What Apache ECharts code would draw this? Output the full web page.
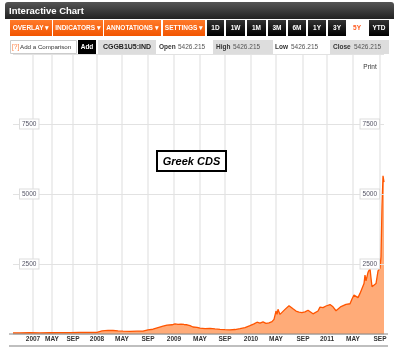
<!DOCTYPE html>
<html>
<head>
<meta charset="utf-8">
<script src="https://cdn.jsdelivr.net/npm/echarts@6/dist/echarts.min.js"></script>
<style>
  html, body { margin: 0; padding: 0; background: #fff; }
  #chart { width: 400px; height: 353px; }
</style>
</head>
<body>
<div id="chart"></div>
<script>
// trading-day slots along the x axis (one slot per pixel column of the plot)
const slotCount = 372;
const tickLabels = ["2007", "MAY", "SEP", "2008", "MAY", "SEP", "2009", "MAY", "SEP", "2010", "MAY", "SEP", "2011", "MAY", "SEP"];
const tickSlots = [20, 39, 60, 84, 109, 135, 161, 187, 212, 238, 263, 290, 314, 340, 367];

// Greek 5Y CDS
const cdsSlots = [0, 7, 17, 27, 37, 47, 57, 67, 77, 84, 89, 95, 100, 105, 110, 117, 124, 130, 135, 140, 145, 150, 154, 159, 162, 165, 168, 171, 174, 177, 180, 184, 187, 192, 197, 202, 207, 212, 217, 222, 227, 232, 237, 241, 244, 247, 250, 253, 256, 259, 261, 263, 264, 265, 267, 269, 272, 274, 276, 278, 280, 283, 286, 289, 292, 295, 297, 300, 302, 305, 307, 310, 313, 317, 320, 323, 325, 328, 330, 333, 337, 339, 341, 343, 345, 347, 349, 351, 352, 353, 354, 355, 357, 358, 359, 361, 363, 365, 367, 368, 369, 370, 371];
const cdsValues = [40, 40, 45, 40, 45, 50, 50, 55, 55, 60, 110, 130, 125, 110, 100, 95, 100, 105, 150, 170, 230, 280, 320, 330, 360, 340, 355, 340, 330, 300, 250, 240, 210, 195, 200, 180, 165, 155, 150, 160, 190, 230, 300, 360, 420, 390, 430, 380, 400, 440, 520, 820, 700, 880, 700, 760, 880, 950, 1010, 960, 900, 820, 780, 760, 790, 850, 870, 720, 690, 820, 960, 940, 1000, 1050, 970, 830, 860, 980, 1020, 1060, 1080, 1250, 1390, 1360, 1300, 1450, 1510, 1800, 2100, 1900, 1950, 2200, 2340, 2000, 1690, 1720, 1800, 2250, 2350, 2760, 4550, 5650, 5426];

const categories = [];
for (let i = 0; i < slotCount; i++) categories.push("");
tickSlots.forEach((s, i) => { categories[s] = tickLabels[i]; });

const seriesData = cdsSlots.map((s, i) => [s, cdsValues[i]]);

const chart = echarts.init(document.getElementById("chart"), null, { renderer: "canvas" });

const font = "Liberation Sans, Arial, sans-serif";

function btn(x, w, label, fill, color) {
  return [
    { type: "rect", shape: { x: x, y: 20, width: w, height: 16 }, style: { fill: fill } },
    { type: "text", x: x + w / 2, y: 28.5, style: { text: label, fill: color, font: "bold 6.5px " + font, align: "center", verticalAlign: "middle" } },
  ];
}
const orange = new echarts.graphic.LinearGradient(0, 0, 0, 1, [
  { offset: 0, color: "#ff7a2a" },
  { offset: 1, color: "#f25500" },
]);
const black = new echarts.graphic.LinearGradient(0, 0, 0, 1, [
  { offset: 0, color: "#333" },
  { offset: 1, color: "#000" },
]);

function txt(x, y, s, f, color, align) {
  return { type: "text", x: x, y: y, style: { text: s, font: f, fill: color, align: align || "left", verticalAlign: "middle" } };
}
function box(x, y, w, h, fill, stroke) {
  return { type: "rect", shape: { x: x, y: y, width: w, height: h }, style: { fill: fill, stroke: stroke || null, lineWidth: 1 } };
}

const header = [
  {
    type: "rect",
    shape: { x: 5, y: 2, width: 389, height: 17, r: [3, 3, 0, 0] },
    style: {
      fill: new echarts.graphic.LinearGradient(0, 0, 0, 1, [
        { offset: 0, color: "#555" },
        { offset: 1, color: "#222" },
      ]),
    },
  },
  txt(9, 11, "Interactive Chart", "bold 9.5px " + font, "#fff"),
]
  .concat(btn(10, 42, "OVERLAY ▾", orange, "#fff"))
  .concat(btn(53, 50, "INDICATORS ▾", orange, "#fff"))
  .concat(btn(104, 57, "ANNOTATIONS ▾", orange, "#fff"))
  .concat(btn(163, 42, "SETTINGS ▾", orange, "#fff"))
  .concat(btn(207, 17, "1D", black, "#fff"))
  .concat(btn(226, 19, "1W", black, "#fff"))
  .concat(btn(247, 19, "1M", black, "#fff"))
  .concat(btn(268, 18, "3M", black, "#fff"))
  .concat(btn(288, 18, "6M", black, "#fff"))
  .concat(btn(308, 18, "1Y", black, "#fff"))
  .concat(btn(328, 18, "3Y", black, "#fff"))
  .concat(btn(348, 18, "5Y", "#fff", "#ff5a1e"))
  .concat(btn(369, 20, "YTD", black, "#fff"))
  .concat([
    box(10.5, 40.5, 66, 13, "#fff", "#ccc"),
    txt(12, 47, "[?]", "6.5px " + font, "#ff7a3a"),
    txt(20, 47, "Add a Comparison", "6.2px " + font, "#333"),
    box(78, 40, 18, 14, "#000"),
    txt(87, 47, "Add", "bold 6.5px " + font, "#fff", "center"),
    box(98, 40, 58, 14, "#ddd"),
    txt(127, 47, "CGGB1U5:IND", "bold 7px " + font, "#222", "center"),
    txt(159, 47, "Open", "bold 6.5px " + font, "#333"),
    txt(178, 47, "5426.215", "6.5px " + font, "#555"),
    box(213, 40, 60, 14, "#ddd"),
    txt(216, 47, "High", "bold 6.5px " + font, "#333"),
    txt(233, 47, "5426.215", "6.5px " + font, "#555"),
    txt(275, 47, "Low", "bold 6.5px " + font, "#333"),
    txt(291, 47, "5426.215", "6.5px " + font, "#555"),
    box(330, 40, 59, 14, "#ddd"),
    txt(333, 47, "Close", "bold 6.5px " + font, "#333"),
    txt(354, 47, "5426.215", "6.5px " + font, "#555"),
    txt(370, 67, "Print", "6.5px " + font, "#333", "center"),
    { type: "line", shape: { x1: 9, y1: 334, x2: 388, y2: 334 }, style: { stroke: "#888", lineWidth: 1 }, z: 20 },
    { type: "line", shape: { x1: 9, y1: 346, x2: 388, y2: 346 }, style: { stroke: "#aaa", lineWidth: 1.5 } },
    box(157, 151, 69, 20, "#fff", "#000"),
    txt(191.5, 161.5, "Greek CDS", "italic bold 11px " + font, "#000", "center"),
  ]);
header[header.length - 2].style.lineWidth = 2;
header[header.length - 2].z = 30;
header[header.length - 1].z = 31;

const yLabel = {
  inside: true,
  fontSize: 6.5,
  fontFamily: font,
  color: "#556",
  backgroundColor: "#fff",
  borderColor: "#ddd",
  borderWidth: 1,
  padding: [1, 2],
  showMinLabel: false,
  showMaxLabel: false,
  formatter: (v) => String(v),
};

const options = {
  animation: false,
  grid: { left: 13, right: 16, top: 54, bottom: 19 },
  xAxis: {
    type: "category",
    data: categories,
    boundaryGap: false,
    axisLine: { show: false },
    axisTick: { show: false },
    axisLabel: {
      interval: (i, v) => v !== "",
      fontSize: 6.5,
      fontWeight: "bold",
      fontFamily: font,
      color: "#333",
      margin: 2,
    },
    splitLine: {
      show: true,
      interval: (i, v) => v !== "",
      lineStyle: { color: "#e8e8e8", width: 1.5 },
    },
  },
  yAxis: [
    {
      type: "value",
      position: "left",
      min: 0,
      max: 10000,
      interval: 2500,
      z: 10,
      axisLine: { show: false },
      axisTick: { show: false },
      axisLabel: Object.assign({ margin: 7 }, yLabel),
      splitLine: { lineStyle: { color: "#e2e2e2", width: 1 } },
    },
    {
      type: "value",
      position: "right",
      min: 0,
      max: 10000,
      interval: 2500,
      z: 10,
      axisLine: { show: false },
      axisTick: { show: false },
      axisLabel: Object.assign({ margin: 5 }, yLabel),
      splitLine: { show: false },
    },
  ],
  series: [
    {
      type: "line",
      data: seriesData,
      symbol: "none",
      lineStyle: { color: "#ff5500", width: 1.3 },
      areaStyle: { color: "#ffab78", opacity: 1 },
    },
  ],
  graphic: header,
};

chart.setOption(options);
</script>
</body>
</html>
